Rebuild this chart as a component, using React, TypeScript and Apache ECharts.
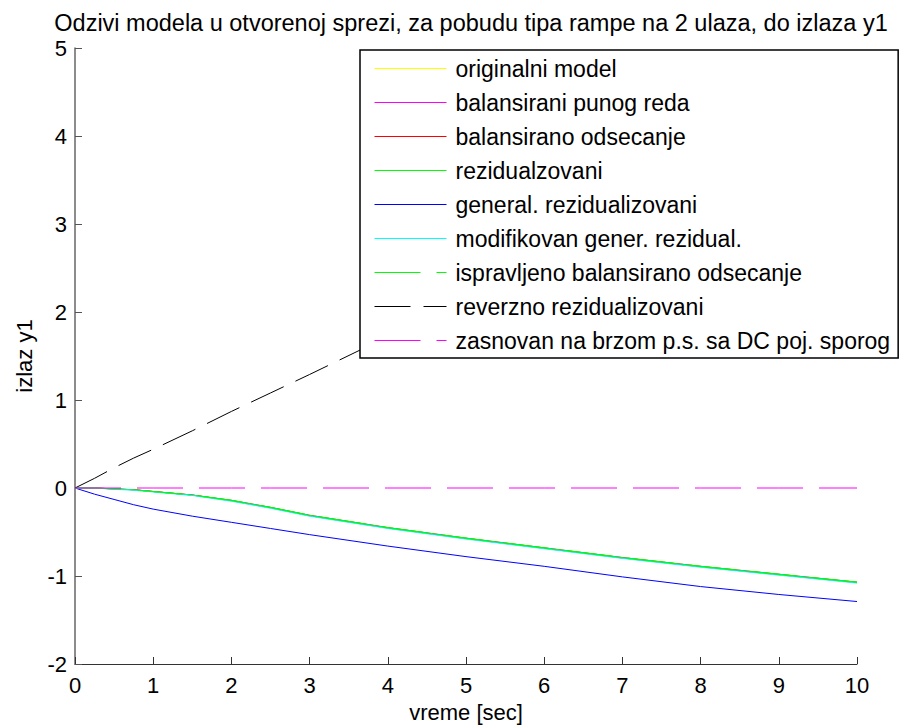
import React, { useEffect, useRef } from "react";
import * as echarts from "echarts";

const timeSec = [0, 0.25, 0.5, 0.75, 1, 1.5, 2, 2.5, 3, 4, 5, 6, 7, 8, 9, 10];

const originalModel = [0, 0, -0.01, -0.02, -0.04, -0.08, -0.14, -0.22, -0.31, -0.45, -0.57, -0.68, -0.79, -0.89, -0.98, -1.07];
const balancedFull = [0, 0, -0.01, -0.02, -0.04, -0.08, -0.14, -0.22, -0.31, -0.45, -0.57, -0.68, -0.79, -0.89, -0.98, -1.07];
const balancedTrunc = [0, 0, -0.01, -0.02, -0.04, -0.08, -0.145, -0.225, -0.315, -0.455, -0.575, -0.685, -0.795, -0.895, -0.985, -1.075];
const residualized = [0, 0, -0.01, -0.02, -0.04, -0.08, -0.14, -0.22, -0.31, -0.45, -0.57, -0.68, -0.79, -0.89, -0.98, -1.07];
const generalResidual = [0, -0.07, -0.13, -0.19, -0.24, -0.32, -0.39, -0.46, -0.53, -0.66, -0.78, -0.89, -1.01, -1.12, -1.21, -1.29];
const modifiedGenResidual = [0, 0, -0.015, -0.025, -0.045, -0.085, -0.15, -0.23, -0.32, -0.46, -0.58, -0.69, -0.8, -0.9, -0.99, -1.08];
const correctedBalanced = [0, 0, -0.01, -0.02, -0.04, -0.08, -0.14, -0.22, -0.31, -0.45, -0.57, -0.68, -0.79, -0.89, -0.98, -1.07];
const reverseResidual = [0, 0.11, 0.23, 0.34, 0.44, 0.65, 0.87, 1.08, 1.29, 1.72, 2.15, 2.58, 3.01, 3.44, 3.87, 4.3];
const fastDcSlow = [0, 0, 0, 0, 0, 0, 0, 0, 0, 0, 0, 0, 0, 0, 0, 0];

const chartTitle = "Odzivi modela u otvorenoj sprezi, za pobudu tipa rampe na 2 ulaza, do izlaza y1";

const seriesNames = [
  "originalni model",
  "balansirani punog reda",
  "balansirano odsecanje",
  "rezidualzovani",
  "general. rezidualizovani",
  "modifikovan gener. rezidual.",
  "ispravljeno balansirano odsecanje",
  "reverzno rezidualizovani",
  "zasnovan na brzom p.s. sa DC poj. sporog",
];
const seriesValues = [
  originalModel,
  balancedFull,
  balancedTrunc,
  residualized,
  generalResidual,
  modifiedGenResidual,
  correctedBalanced,
  reverseResidual,
  fastDcSlow,
];
const seriesColors = ["#ffff00", "#ff00ff", "#ff0000", "#00ff00", "#0000ff", "#00ffff", "#00ff00", "#000000", "#ff00ff"];
const seriesDash: any[] = ["solid", "solid", "solid", "solid", "solid", "solid", [46, 16], [36, 13], [46, 16]];

const FONT = "'Liberation Sans', Arial, sans-serif";

export default function App() {
  const ref = useRef<HTMLDivElement>(null);
  useEffect(() => {
    if (!ref.current) return;
    const chart = echarts.init(ref.current, null, { renderer: "svg" });
    const series = seriesNames.map((name, i) => ({
      name,
      type: "line",
      symbol: "none",
      data: timeSec.map((t, j) => [t, seriesValues[i][j]]),
      lineStyle: { color: seriesColors[i], width: 1, type: seriesDash[i] },
      itemStyle: { color: seriesColors[i] },
      z: 2,
    }));
    const legendData = seriesNames.map((name, i) => ({
      name,
      lineStyle: { color: seriesColors[i], width: 1, type: seriesDash[i] },
      itemStyle: { color: "rgba(0,0,0,0)", borderWidth: 0, opacity: 0 },
    }));
    chart.setOption({
      animation: false,
      backgroundColor: "#ffffff",
      textStyle: { fontFamily: FONT },
      graphic: [
        {
          type: "text",
          x: 471,
          y: 23,
          z: 20,
          style: {
            text: chartTitle,
            fontFamily: FONT,
            fontSize: 23.5,
            fill: "#000",
            textAlign: "center",
            textVerticalAlign: "middle",
          },
        },
      ],
      grid: { left: 75, right: 50, top: 48, bottom: 64, containLabel: false },
      legend: {
        orient: "vertical",
        left: 360,
        top: 50,
        backgroundColor: "#ffffff",
        borderColor: "#000",
        borderWidth: 1.5,
        borderRadius: 0,
        padding: [7, 8, 6, 14],
        itemWidth: 72,
        itemHeight: 14,
        itemGap: 11,
        textStyle: { fontFamily: FONT, fontSize: 23, color: "#000", padding: [0, 0, 0, 4] },
        data: legendData,
        z: 10,
      },
      xAxis: {
        type: "value",
        min: 0,
        max: 10,
        interval: 1,
        name: "vreme [sec]",
        nameLocation: "middle",
        nameGap: 37,
        nameTextStyle: { fontFamily: FONT, fontSize: 22, color: "#000" },
        axisLine: { show: true, onZero: false, lineStyle: { color: "#333", width: 1 } },
        axisTick: { show: true, inside: true, length: 7, lineStyle: { color: "#333" } },
        axisLabel: { fontFamily: FONT, fontSize: 22, color: "#000", margin: 10 },
        splitLine: { show: false },
      },
      yAxis: {
        type: "value",
        min: -2,
        max: 5,
        interval: 1,
        name: "izlaz y1",
        nameLocation: "middle",
        nameGap: 40,
        nameRotate: 90,
        nameTextStyle: { fontFamily: FONT, fontSize: 22, color: "#000" },
        axisLine: { show: true, onZero: false, lineStyle: { color: "#666", width: 1.5 } },
        axisTick: { show: true, inside: true, length: 7, lineStyle: { color: "#555" } },
        axisLabel: { fontFamily: FONT, fontSize: 22, color: "#000", margin: 8 },
        splitLine: { show: false },
      },
      series,
    });
    return () => chart.dispose();
  }, []);
  return <div ref={ref} style={{ position: "fixed", left: 0, top: 0, width: 907, height: 728 }} />;
}
